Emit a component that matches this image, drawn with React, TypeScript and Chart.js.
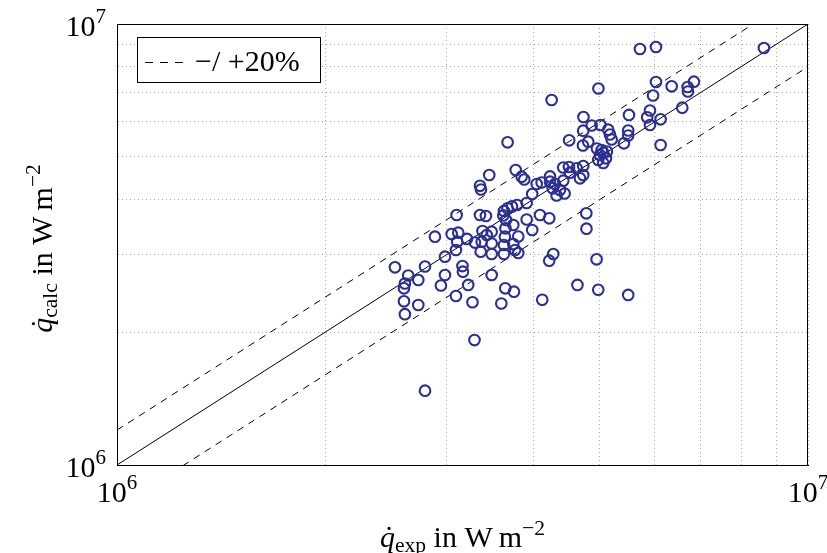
import React, { useEffect, useRef } from "react";
import { Chart, registerables } from "chart.js";

Chart.register(...registerables);

const FONT = '"Liberation Serif", "Times New Roman", serif';

// experimental heat flux (x) and calculated heat flux (y), W m^-2
const qExp = [
  5.713e6, 6.026e6, 8.634e6, 4.256e6, 4.974e6, 6.026e6, 6.349e6, 6.696e6, 6.838e6, 6.702e6,
  5.967e6, 6.577e6, 5.906e6, 5.852e6, 6.119e6, 5.906e6, 6.119e6, 5.507e6, 4.732e6, 4.863e6,
  5.007e6, 4.728e6, 5.139e6, 5.493e6, 5.169e6, 5.493e6, 5.198e6, 4.512e6, 4.808e6, 4.724e6,
  5.415e6, 3.675e6, 4.950e6, 5.055e6, 5.117e6, 4.999e6, 5.101e6, 4.971e6, 5.055e6, 5.028e6,
  3.776e6, 3.457e6, 3.352e6, 3.363e6, 3.851e6, 3.885e6, 4.233e6, 4.424e6, 4.509e6, 4.626e6,
  4.728e6, 4.677e6, 4.728e6, 4.524e6, 4.049e6, 4.116e6, 4.233e6, 4.303e6, 4.424e6, 4.271e6,
  4.375e6, 4.444e6, 4.327e6, 3.989e6, 3.916e6, 3.631e6, 3.674e6, 3.729e6, 3.793e6, 3.623e6,
  3.656e6, 3.352e6, 3.419e6, 3.101e6, 3.916e6, 4.094e6, 4.222e6, 4.777e6, 4.780e6, 3.745e6,
  3.649e6, 3.380e6, 3.989e6, 3.485e6, 3.428e6, 3.050e6, 3.118e6, 2.885e6, 3.107e6, 3.210e6,
  3.296e6, 3.094e6, 3.371e6, 3.485e6, 3.360e6, 3.485e6, 3.642e6, 3.631e6, 3.631e6, 3.745e6,
  3.808e6, 3.768e6, 3.808e6, 2.983e6, 2.525e6, 2.791e6, 2.639e6, 2.729e6, 2.610e6, 2.602e6,
  2.983e6, 2.943e6, 3.162e6, 3.167e6, 3.223e6, 3.485e6, 4.279e6, 4.222e6, 4.944e6, 3.094e6,
  3.269e6, 2.602e6, 2.729e6, 2.610e6, 3.647e6, 3.754e6, 3.599e6, 4.125e6, 4.638e6, 4.971e6,
  5.493e6, 3.291e6, 2.791e6,
];

const qCalc = [
  8.776e6, 8.868e6, 8.823e6, 6.725e6, 7.141e6, 7.388e6, 7.223e6, 7.197e6, 7.400e6, 7.030e6,
  6.885e6, 6.460e6, 6.366e6, 6.143e6, 6.080e6, 5.902e6, 5.316e6, 6.219e6, 6.153e6, 5.886e6,
  5.902e6, 5.728e6, 5.759e6, 5.735e6, 5.616e6, 5.587e6, 5.471e6, 5.449e6, 5.409e6, 5.303e6,
  5.364e6, 5.392e6, 5.220e6, 5.108e6, 5.139e6, 5.046e6, 4.960e6, 4.916e6, 4.840e6, 5.180e6,
  4.666e6, 4.546e6, 4.296e6, 4.214e6, 4.505e6, 4.440e6, 4.511e6, 4.727e6, 4.739e6, 4.708e6,
  4.764e6, 4.468e6, 4.546e6, 4.600e6, 4.337e6, 4.371e6, 4.390e6, 4.337e6, 4.413e6, 4.240e6,
  4.203e6, 4.127e6, 4.084e6, 4.116e6, 3.927e6, 3.767e6, 3.820e6, 3.857e6, 3.887e6, 3.680e6,
  3.594e6, 3.689e6, 3.670e6, 3.689e6, 3.603e6, 3.689e6, 3.626e6, 3.721e6, 3.434e6, 3.501e6,
  3.441e6, 3.393e6, 3.411e6, 3.381e6, 3.323e6, 3.340e6, 3.363e6, 3.294e6, 3.209e6, 3.255e6,
  3.195e6, 3.073e6, 3.209e6, 3.179e6, 3.046e6, 3.009e6, 3.294e6, 3.154e6, 3.009e6, 3.170e6,
  3.297e6, 3.073e6, 3.025e6, 2.967e6, 2.807e6, 2.819e6, 2.690e6, 2.627e6, 2.580e6, 2.516e6,
  2.697e6, 2.553e6, 2.826e6, 2.744e6, 2.560e6, 2.697e6, 3.009e6, 2.906e6, 2.927e6, 2.417e6,
  2.339e6, 2.351e6, 2.306e6, 2.198e6, 2.516e6, 2.472e6, 2.324e6, 2.370e6, 2.560e6, 2.497e6,
  2.430e6, 1.920e6, 1.474e6,
];

const AXIS_MIN = 1e6;
const AXIS_MAX = 1e7;
const DEVIATION = 0.2;
// grid lines (decade and minor log ticks)
const gridValues = [1e6, 2e6, 3e6, 4e6, 5e6, 6e6, 7e6, 8e6, 9e6, 1e7];
const decadeLabels = [
  { value: 1e6, base: "10", exp: "6" },
  { value: 1e7, base: "10", exp: "7" },
];
const legendText = "\u2212/ +20%";

type Seg = { t: string; size: number; dy: number; italic?: boolean };

function fontFor(s: Seg) {
  return `${s.italic ? "italic " : ""}${s.size}px ${FONT}`;
}
function segWidth(ctx: CanvasRenderingContext2D, segs: Seg[]) {
  let w = 0;
  for (const s of segs) {
    ctx.font = fontFor(s);
    w += ctx.measureText(s.t).width;
  }
  return w;
}
function drawSegs(ctx: CanvasRenderingContext2D, segs: Seg[], x: number, y: number) {
  let cx = x;
  const pos: number[] = [];
  for (const s of segs) {
    ctx.font = fontFor(s);
    pos.push(cx);
    ctx.fillText(s.t, cx, y + s.dy);
    cx += ctx.measureText(s.t).width;
  }
  return pos;
}

function titleSegs(sub: string, F: number): Seg[] {
  return [
    { t: "q", size: F, dy: 0, italic: true },
    { t: sub, size: F * 0.72, dy: F * 0.18 },
    { t: " in W\u2009m", size: F, dy: 0 },
    { t: "\u22122", size: F * 0.72, dy: -F * 0.4 },
  ];
}

function drawTitle(ctx: CanvasRenderingContext2D, sub: string, F: number, cx: number, baseY: number) {
  const segs = titleSegs(sub, F);
  const w = segWidth(ctx, segs);
  const x0 = cx - w / 2;
  const pos = drawSegs(ctx, segs, x0, baseY);
  ctx.font = fontFor(segs[0]);
  const qw = ctx.measureText("q").width;
  ctx.font = `${F}px ${FONT}`;
  ctx.textAlign = "center";
  ctx.fillText("\u02D9", pos[0] + qw * 0.6, baseY);
  ctx.textAlign = "left";
}

const overlayPlugin = {
  id: "overlay",
  afterDraw(chart: any) {
    const ctx: CanvasRenderingContext2D = chart.ctx;
    const { left, right, top, bottom } = chart.chartArea;
    const xs = chart.scales.x;
    const ys = chart.scales.y;
    ctx.save();
    ctx.fillStyle = "#000";
    ctx.strokeStyle = "#000";
    ctx.lineWidth = 1;
    ctx.setLineDash([]);
    ctx.strokeRect(Math.round(left) + 0.5, Math.round(top) + 0.5, Math.round(right - left) - 1, Math.round(bottom - top));

    const F = 30;
    ctx.textBaseline = "alphabetic";
    ctx.textAlign = "left";
    for (const d of decadeLabels) {
      const segs: Seg[] = [
        { t: d.base, size: F, dy: 0 },
        { t: d.exp, size: F * 0.7, dy: -F * 0.42 },
      ];
      const w = segWidth(ctx, segs);
      const py = ys.getPixelForValue(d.value);
      drawSegs(ctx, segs, left - 11 - w, py + 12);
      const px = xs.getPixelForValue(d.value);
      drawSegs(ctx, segs, px - w / 2, bottom + 37);
    }

    drawTitle(ctx, "exp", F, (left + right) / 2, 547);
    ctx.save();
    ctx.translate(52, (top + bottom) / 2 + 4);
    ctx.rotate(-Math.PI / 2);
    drawTitle(ctx, "calc", F, 0, 0);
    ctx.restore();

    const lx = left + 20, ly = top + 13, lw = 183, lh = 45;
    ctx.fillStyle = "#fff";
    ctx.fillRect(lx, ly, lw, lh);
    ctx.strokeStyle = "#000";
    ctx.strokeRect(lx + 0.5, ly + 0.5, lw, lh);
    ctx.beginPath();
    ctx.setLineDash([8, 7]);
    ctx.moveTo(lx + 8, ly + 25.5);
    ctx.lineTo(lx + 46, ly + 25.5);
    ctx.stroke();
    ctx.setLineDash([]);
    ctx.fillStyle = "#000";
    ctx.font = `${F}px ${FONT}`;
    ctx.fillText(legendText, lx + 58, ly + 34);
    ctx.restore();
  },
};

export default function App() {
  const ref = useRef<HTMLCanvasElement | null>(null);
  useEffect(() => {
    if (!ref.current) return;
    const points = qExp.map((x, i) => ({ x, y: qCalc[i] }));
    const identity = [
      { x: AXIS_MIN, y: AXIS_MIN },
      { x: AXIS_MAX, y: AXIS_MAX },
    ];
    const upper = identity.map((p) => ({ x: p.x, y: p.y * (1 + DEVIATION) }));
    const lower = identity.map((p) => ({ x: p.x, y: p.y * (1 - DEVIATION) }));
    const lineBase = {
      showLine: true,
      pointRadius: 0,
      borderColor: "#000",
      borderWidth: 1,
      fill: false,
    };
    const setTicks = (s: any) => {
      s.ticks = gridValues.map((v) => ({ value: v }));
    };
    const chart = new Chart(ref.current, {
      type: "scatter",
      data: {
        datasets: [
          {
            label: "data",
            data: points,
            pointStyle: "circle",
            pointRadius: 5.3,
            borderWidth: 2.1,
            pointBorderWidth: 2.1,
            borderColor: "#2b2f94",
            pointBorderColor: "#2b2f94",
            backgroundColor: "rgba(0,0,0,0)",
            pointBackgroundColor: "rgba(0,0,0,0)",
          },
          { ...lineBase, label: "identity", data: identity },
          { ...lineBase, label: "+20%", data: upper, borderDash: [7, 6] },
          { ...lineBase, label: "-20%", data: lower, borderDash: [7, 6] },
        ],
      } as any,
      options: {
        animation: false,
        responsive: true,
        maintainAspectRatio: false,
        events: [],
        layout: { padding: { left: 0, right: 19, top: 24, bottom: 0 } },
        plugins: { legend: { display: false }, tooltip: { enabled: false } },
        scales: {
          x: {
            type: "logarithmic",
            min: AXIS_MIN,
            max: AXIS_MAX,
            position: "bottom",
            ticks: { display: false, autoSkip: false },
            grid: { color: "#a8a8a8", lineWidth: 1, drawTicks: false },
            border: { display: true, color: "#000", width: 1, dash: [1, 3] },
            afterBuildTicks: setTicks,
            afterFit: (s: any) => {
              s.height = 88;
            },
          },
          y: {
            type: "logarithmic",
            min: AXIS_MIN,
            max: AXIS_MAX,
            position: "left",
            ticks: { display: false, autoSkip: false },
            grid: { color: "#a8a8a8", lineWidth: 1, drawTicks: false },
            border: { display: true, color: "#000", width: 1, dash: [1, 3] },
            afterBuildTicks: setTicks,
            afterFit: (s: any) => {
              s.width = 117;
            },
          },
        },
      } as any,
      plugins: [overlayPlugin],
    });
    return () => chart.destroy();
  }, []);
  return (
    <div style={{ position: "absolute", left: 0, top: 0, width: 827, height: 553, background: "#fff" }}>
      <canvas ref={ref} />
    </div>
  );
}
